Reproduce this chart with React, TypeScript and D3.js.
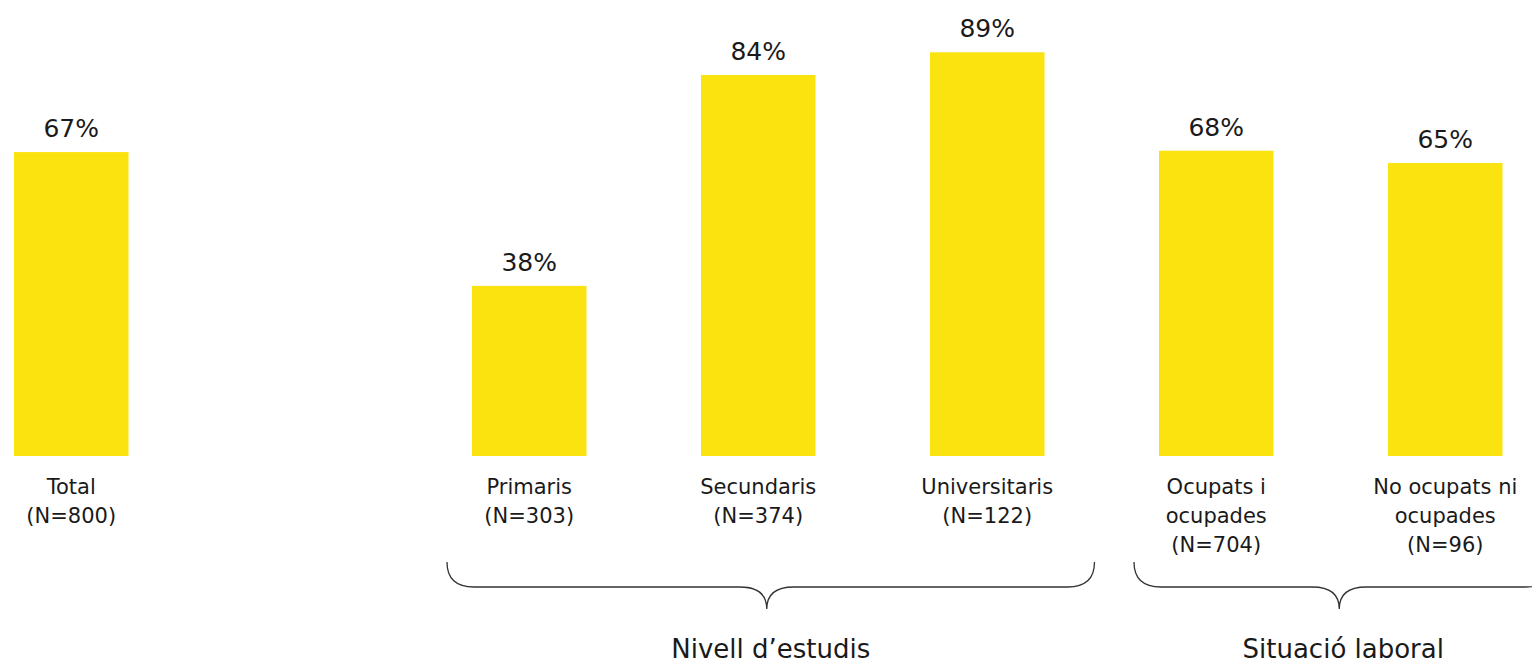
import React, { useRef, useEffect } from 'react';
import * as d3 from 'd3';

// --- DATA ---
// slot "gap" is the empty space between Total and the first group
const slots = ["total", "gap", "primaris", "secundaris", "universitaris", "ocupats", "noOcupats"];
const categoryLines: string[][] = [
  ["Total"],
  [],
  ["Primaris"],
  ["Secundaris"],
  ["Universitaris"],
  ["Ocupats i", "ocupades"],
  ["No ocupats ni", "ocupades"],
];
const sampleSizes: (number | null)[] = [800, null, 303, 374, 122, 704, 96];
const values: (number | null)[] = [67.0, null, 37.5, 84.0, 89.0, 67.3, 64.6];
const valueLabels: string[] = ["67%", "", "38%", "84%", "89%", "68%", "65%"];

const groups = [
  { label: "Nivell d\u2019estudis", from: "primaris", to: "universitaris" },
  { label: "Situaci\u00f3 laboral", from: "ocupats", to: "noOcupats" },
];

const FONT = "'DejaVu Sans', sans-serif";
const BAR_COLOR = "#FBE30F";

export default function App() {
  const svgRef = useRef<SVGSVGElement>(null);

  useEffect(() => {
    if (!svgRef.current) return;
    const width = 1532;
    const height = 666;
    const baseline = 456;

    const svg = d3.select(svgRef.current);
    svg.selectAll("*").remove();
    svg.attr("width", width).attr("height", height);

    const x = d3.scaleBand<string>()
      .domain(slots)
      .range([14, 1502.5])
      .paddingInner(0.5)
      .paddingOuter(0);

    const y = d3.scaleLinear().domain([0, 100]).range([baseline, baseline - 453.6]);

    const rows = slots.map((s, i) => ({
      key: s,
      value: values[i],
      label: valueLabels[i],
      lines: categoryLines[i],
      n: sampleSizes[i],
    })).filter(d => d.value !== null);

    // Bars
    svg.append("g")
      .selectAll("rect")
      .data(rows)
      .enter()
      .append("rect")
      .attr("x", d => x(d.key) || 0)
      .attr("y", d => y(d.value as number))
      .attr("width", x.bandwidth())
      .attr("height", d => baseline - y(d.value as number))
      .attr("fill", BAR_COLOR);

    // Value labels
    svg.append("g")
      .selectAll("text")
      .data(rows)
      .enter()
      .append("text")
      .attr("x", d => (x(d.key) || 0) + x.bandwidth() / 2)
      .attr("y", d => y(d.value as number) - 15)
      .attr("text-anchor", "middle")
      .style("font-family", FONT)
      .style("font-size", "25px")
      .attr("fill", "#1a1a1a")
      .text(d => d.label);

    // Category labels (multi-line)
    const cat = svg.append("g")
      .selectAll("text")
      .data(rows)
      .enter()
      .append("text")
      .attr("text-anchor", "middle")
      .style("font-family", FONT)
      .style("font-size", "21px")
      .attr("fill", "#1a1a1a");

    cat.each(function (d) {
      const cx = (x(d.key) || 0) + x.bandwidth() / 2;
      const lines = [...d.lines, `(N=${d.n})`];
      d3.select(this)
        .selectAll("tspan")
        .data(lines)
        .enter()
        .append("tspan")
        .attr("x", cx)
        .attr("y", (_, i) => 494 + i * 29)
        .text(t => t);
    });

    // Braces + group labels
    const brace = (left: number, right: number, tip: number) => {
      const y0 = 562, y1 = 587, y2 = 609, r = 27;
      return `M${left},${y0} Q${left},${y1} ${left + r},${y1} H${tip - r}` +
        ` Q${tip},${y1} ${tip},${y2} Q${tip},${y1} ${tip + r},${y1}` +
        ` H${right - r} Q${right},${y1} ${right},${y0}`;
    };

    groups.forEach(g => {
      const left = (x(g.from) || 0) - 25;
      const right = (x(g.to) || 0) + x.bandwidth() + 50;
      const mid = (left + right) / 2;
      svg.append("path")
        .attr("d", brace(left, right, mid - 4))
        .attr("fill", "none")
        .attr("stroke", "#333")
        .attr("stroke-width", 1.3);

      svg.append("text")
        .attr("x", mid)
        .attr("y", 658)
        .attr("text-anchor", "middle")
        .style("font-family", FONT)
        .style("font-size", "26px")
        .attr("fill", "#1a1a1a")
        .text(g.label);
    });
  }, []);

  return (
    <div style={{ position: "absolute", left: 0, top: 0, width: 1532, height: 666, background: "#fff" }}>
      <svg ref={svgRef}></svg>
    </div>
  );
}
